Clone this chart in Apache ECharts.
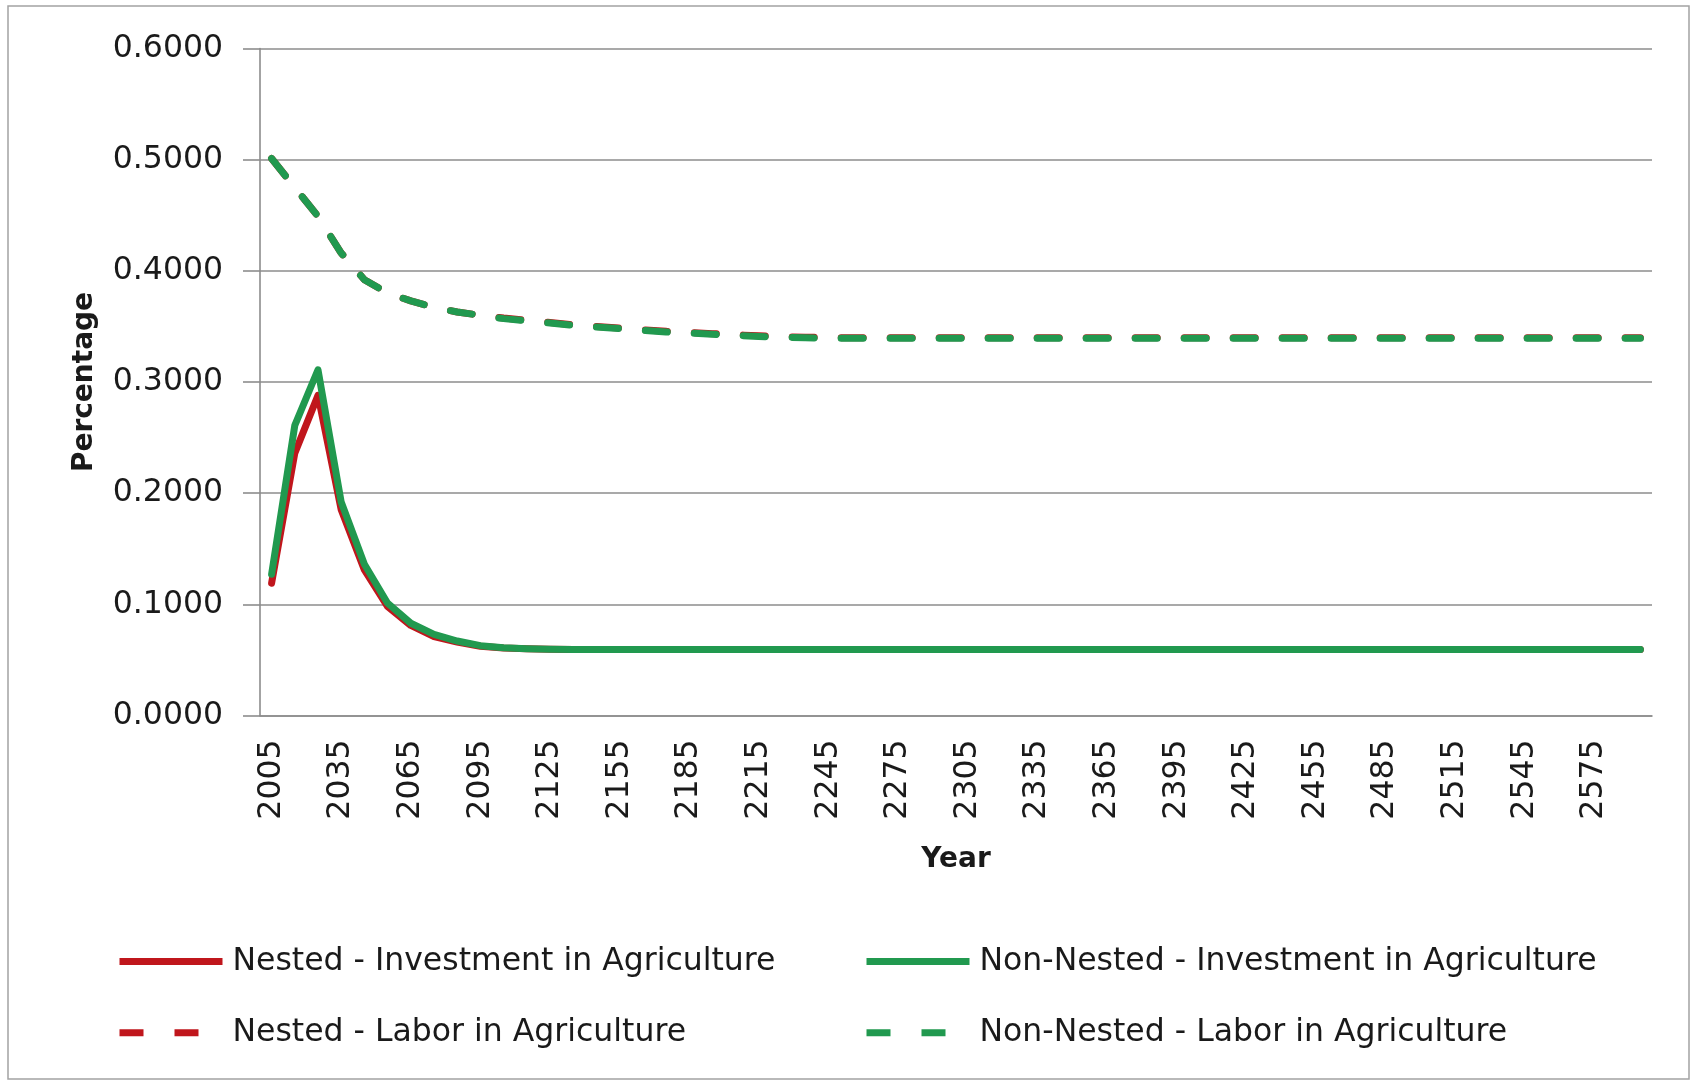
<!DOCTYPE html>
<html>
<head>
<meta charset="utf-8">
<title>Investment and Labor in Agriculture</title>
<script src="https://cdn.jsdelivr.net/npm/echarts@6/dist/echarts.min.js"></script>
<style>
  html, body { margin: 0; padding: 0; background: #ffffff; }
  #chart { width: 1692px; height: 1082px; }
</style>
</head>
<body>
<div id="chart"></div>
<script>
// Simulation years, one point per decade
const years = [
  '2005','2015','2025','2035','2045','2055','2065','2075','2085','2095',
  '2105','2115','2125','2135','2145','2155','2165','2175','2185','2195',
  '2205','2215','2225','2235','2245','2255','2265','2275','2285','2295',
  '2305','2315','2325','2335','2345','2355','2365','2375','2385','2395',
  '2405','2415','2425','2435','2445','2455','2465','2475','2485','2495',
  '2505','2515','2525','2535','2545','2555','2565','2575','2585','2595'
];

// Share of investment going to agriculture
const nestedInvestment = [
  0.119, 0.236, 0.288, 0.185, 0.131, 0.098, 0.081, 0.071, 0.066, 0.0622,
  0.0608, 0.0600, 0.0595, 0.0593, 0.0593, 0.0593, 0.0593, 0.0593, 0.0593, 0.0593,
  0.0593, 0.0593, 0.0593, 0.0593, 0.0593, 0.0593, 0.0593, 0.0593, 0.0593, 0.0593,
  0.0593, 0.0593, 0.0593, 0.0593, 0.0593, 0.0593, 0.0593, 0.0593, 0.0593, 0.0593,
  0.0593, 0.0593, 0.0593, 0.0593, 0.0593, 0.0593, 0.0593, 0.0593, 0.0593, 0.0593,
  0.0593, 0.0593, 0.0593, 0.0593, 0.0593, 0.0593, 0.0593, 0.0593, 0.0593, 0.0593
];
const nonNestedInvestment = [
  0.127, 0.261, 0.311, 0.192, 0.136, 0.101, 0.083, 0.073, 0.067, 0.0628,
  0.0610, 0.0601, 0.0595, 0.0593, 0.0593, 0.0593, 0.0593, 0.0593, 0.0593, 0.0593,
  0.0593, 0.0593, 0.0593, 0.0593, 0.0593, 0.0593, 0.0593, 0.0593, 0.0593, 0.0593,
  0.0593, 0.0593, 0.0593, 0.0593, 0.0593, 0.0593, 0.0593, 0.0593, 0.0593, 0.0593,
  0.0593, 0.0593, 0.0593, 0.0593, 0.0593, 0.0593, 0.0593, 0.0593, 0.0593, 0.0593,
  0.0593, 0.0593, 0.0593, 0.0593, 0.0593, 0.0593, 0.0593, 0.0593, 0.0593, 0.0593
];

// Share of labor employed in agriculture
const nestedLabor = [
  0.501, 0.475, 0.449, 0.416, 0.392, 0.380, 0.373, 0.367, 0.363, 0.360,
  0.3575, 0.3555, 0.3535, 0.3515, 0.3500, 0.3485, 0.3470, 0.3456, 0.3445, 0.3435,
  0.3425, 0.3415, 0.3408, 0.3403, 0.3400, 0.3398, 0.3397, 0.3397, 0.3397, 0.3397,
  0.3397, 0.3397, 0.3397, 0.3397, 0.3397, 0.3397, 0.3397, 0.3397, 0.3397, 0.3397,
  0.3397, 0.3397, 0.3397, 0.3397, 0.3397, 0.3397, 0.3397, 0.3397, 0.3397, 0.3397,
  0.3397, 0.3397, 0.3397, 0.3397, 0.3397, 0.3397, 0.3397, 0.3397, 0.3397, 0.3397
];
const nonNestedLabor = [
  0.501, 0.475, 0.449, 0.416, 0.392, 0.380, 0.373, 0.367, 0.363, 0.360,
  0.357, 0.355, 0.353, 0.351, 0.3495, 0.348, 0.3465, 0.345, 0.344, 0.343,
  0.342, 0.341, 0.3403, 0.3398, 0.3395, 0.3393, 0.3393, 0.3393, 0.3393, 0.3393,
  0.3393, 0.3393, 0.3393, 0.3393, 0.3393, 0.3393, 0.3393, 0.3393, 0.3393, 0.3393,
  0.3393, 0.3393, 0.3393, 0.3393, 0.3393, 0.3393, 0.3393, 0.3393, 0.3393, 0.3393,
  0.3393, 0.3393, 0.3393, 0.3393, 0.3393, 0.3393, 0.3393, 0.3393, 0.3393, 0.3393
];

// Value axis ticks
const yTicks = [0, 0.1, 0.2, 0.3, 0.4, 0.5, 0.6];

const seriesNames = [
  'Nested - Investment in Agriculture',
  'Non-Nested - Investment in Agriculture',
  'Nested - Labor in Agriculture',
  'Non-Nested - Labor in Agriculture'
];

const RED = '#c0161c';
const GREEN = '#21994f';
const FONT = 'DejaVu Sans';
const TEXT = '#1a1a1a';
const GRID_GRAY = '#8c8c8c';

const chart = echarts.init(document.getElementById('chart'), null, { renderer: 'canvas' });

function legendFor(name, left, top, dashed) {
  const item = { name: name };
  if (dashed) item.lineStyle = { type: [24, 31], cap: 'butt', width: 7 };
  else item.lineStyle = { width: 7, cap: 'butt' };
  return {
    data: [item],
    left: left,
    top: top,
    orient: 'horizontal',
    itemWidth: 103,
    itemHeight: 32,
    selectedMode: false,
    padding: 0,
    itemStyle: { opacity: 0 },
    textStyle: {
      fontFamily: FONT,
      fontSize: 31.5,
      color: TEXT,
      lineHeight: 32,
      padding: [0, 0, 0, 5]
    }
  };
}

const lineSeries = (name, data, color, dashed) => ({
  name: name,
  type: 'line',
  data: data,
  symbol: 'none',
  smooth: false,
  silent: true,
  lineStyle: dashed
    ? { color: color, width: 7, type: [22, 27], cap: 'round', join: 'round' }
    : { color: color, width: 7, cap: 'round', join: 'round' },
  itemStyle: { color: color }
});

chart.setOption({
  animation: false,
  backgroundColor: '#ffffff',
  graphic: [{
    type: 'rect',
    shape: { x: 8, y: 6, width: 1681, height: 1073 },
    style: { fill: 'none', stroke: '#a3a3a3', lineWidth: 1.5 },
    silent: true,
    z: -1
  }],
  grid: { left: 260, right: 40, top: 48.5, bottom: 366.5, containLabel: false },
  legend: [
    legendFor(seriesNames[0], 116, 945.5, false),
    legendFor(seriesNames[1], 863, 945.5, false),
    legendFor(seriesNames[2], 116, 1016.7, true),
    legendFor(seriesNames[3], 863, 1016.7, true)
  ],
  xAxis: {
    type: 'category',
    data: years,
    boundaryGap: true,
    name: 'Year',
    nameLocation: 'middle',
    nameGap: 130,
    nameTextStyle: { fontFamily: FONT, fontSize: 28, fontWeight: 'bold', color: TEXT },
    axisLine: { show: true, lineStyle: { color: GRID_GRAY, width: 1.6 } },
    axisTick: { show: false },
    axisLabel: {
      interval: 2,
      rotate: 90,
      margin: 24,
      fontFamily: FONT,
      fontSize: 31.5,
      color: TEXT
    },
    splitLine: { show: false }
  },
  yAxis: {
    type: 'value',
    min: yTicks[0],
    max: yTicks[yTicks.length - 1],
    interval: 0.1,
    name: 'Percentage',
    nameLocation: 'middle',
    nameGap: 161,
    nameTextStyle: { fontFamily: FONT, fontSize: 28, fontWeight: 'bold', color: TEXT },
    axisLine: { show: true, lineStyle: { color: GRID_GRAY, width: 1.6 } },
    axisTick: { show: true, inside: false, length: 17, lineStyle: { color: GRID_GRAY, width: 1.6 } },
    axisLabel: {
      margin: 37,
      fontFamily: FONT,
      fontSize: 31.5,
      color: TEXT,
      formatter: (v) => v.toFixed(4)
    },
    splitLine: { show: true, lineStyle: { color: GRID_GRAY, width: 1.6 } }
  },
  series: [
    lineSeries(seriesNames[0], nestedInvestment, RED, false),
    lineSeries(seriesNames[2], nestedLabor, RED, true),
    lineSeries(seriesNames[1], nonNestedInvestment, GREEN, false),
    lineSeries(seriesNames[3], nonNestedLabor, GREEN, true)
  ]
});
</script>
</body>
</html>
